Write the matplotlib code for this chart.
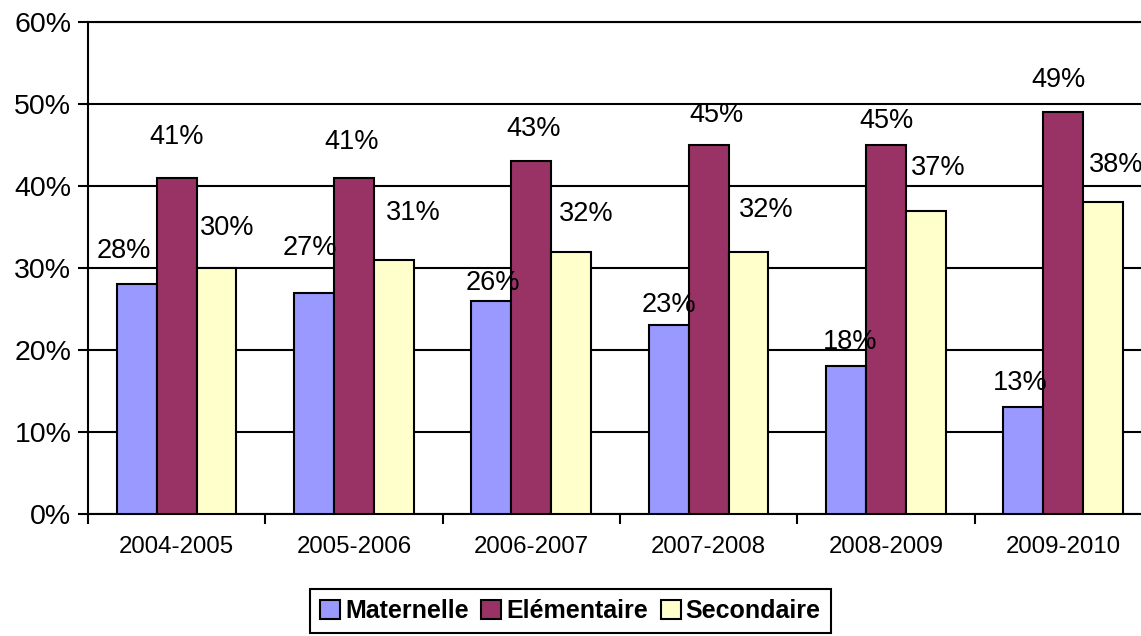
import numpy as np
import matplotlib.pyplot as plt

# school years and share per level (%)
years = ['2004-2005', '2005-2006', '2006-2007', '2007-2008', '2008-2009', '2009-2010']
maternelle = [28, 27, 26, 23, 18, 13]
elementaire = [41, 41, 43, 45, 45, 49]
secondaire = [30, 31, 32, 32, 37, 38]
series_names = ['Maternelle', 'Elémentaire', 'Secondaire']
colors = ['#9999FF', '#993366', '#FFFFCC']

# labels were moved by hand in the original: offsets from bar top, in pixels (dx, dy up)
lab_dx = [[-13, -4, 1, 0, 4, -3],
          [0, -2, 2, 8, 1, -5],
          [11, 19, 15, 18, 12, 13]]
lab_dy = [[33, 45, 18, 20, 24, 24],
          [41, 36, 32, 30, 24, 32],
          [40, 47, 38, 42, 43, 37]]

plt.rcParams['font.family'] = ['Liberation Sans', 'DejaVu Sans']

fig = plt.figure(figsize=(11.41, 6.36), dpi=100)
ax = fig.add_axes([0.0771, 0.1918, 0.9325, 0.7736])

x = np.arange(len(years)) + 0.5
w = 0.225
series = [maternelle, elementaire, secondaire]
offsets = [-w, 0, w]
px = 72 / 100  # pixels -> points

for k, (vals, off, col, name) in enumerate(zip(series, offsets, colors, series_names)):
    bars = ax.bar(x + off, vals, width=w, color=col, edgecolor='black',
                  linewidth=1.5, label=name, zorder=3)
    for j, (b, v) in enumerate(zip(bars, vals)):
        ax.annotate(f'{v}%', (b.get_x() + b.get_width() / 2, v),
                    xytext=(lab_dx[k][j] * px, lab_dy[k][j] * px),
                    textcoords='offset points', annotation_clip=False,
                    ha='center', va='center', fontsize=19.5, zorder=4)

ax.set_xlim(0, len(years))
ax.set_ylim(0, 60)
ax.set_yticks(range(0, 61, 10))
ax.set_yticklabels([f'{v}%' for v in range(0, 61, 10)], fontsize=20.5)
ax.yaxis.grid(True, color='black', linewidth=1.5, zorder=0)

ax.set_xticks(np.arange(len(years) + 1))
ax.set_xticklabels([])
ax.set_xticks(x, minor=True)
ax.set_xticklabels(years, minor=True, fontsize=17.3)
ax.tick_params(axis='x', which='minor', length=0, pad=16)
ax.tick_params(axis='x', which='major', length=7, width=1.5, direction='out')
ax.tick_params(axis='y', length=7, width=1.5, direction='out', pad=5)

for s in ['left', 'bottom', 'top']:
    ax.spines[s].set_linewidth(1.5)
ax.spines['right'].set_visible(False)

leg = fig.legend(loc='center', bbox_to_anchor=(0.5, 0.039), ncol=3,
                 prop={'weight': 'bold', 'size': 18}, handlelength=0.8,
                 handleheight=0.8, handletextpad=0.2, columnspacing=0.5,
                 borderpad=0.4, fancybox=False, edgecolor='black', framealpha=1)
leg.get_frame().set_linewidth(1.5)
for h in leg.legend_handles:
    h.set_linewidth(1.5)

fig.savefig('out.png', dpi=100)
